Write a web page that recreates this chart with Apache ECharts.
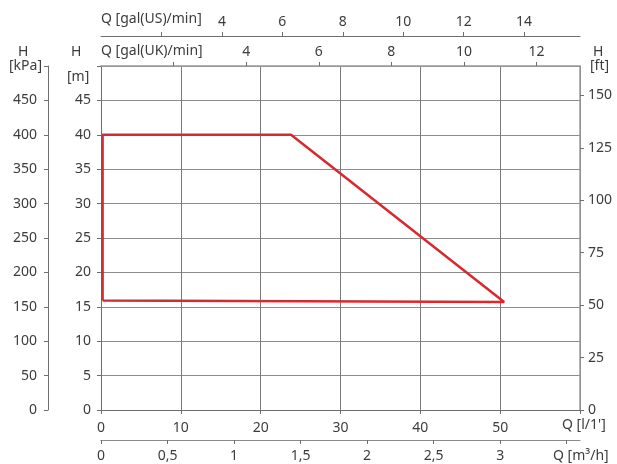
<!DOCTYPE html>
<html><head><meta charset="utf-8">
<script src="https://cdn.jsdelivr.net/npm/echarts@6/dist/echarts.min.js"></script>
<style>html,body{margin:0;padding:0;background:#fff}#c{width:617px;height:464px}</style>
</head><body><div id="c"></div>
<script>
// Operating range polygon (Q in l/min, H in m)
const flowLpm = [0.2, 0.2, 23.8, 50.5, 0.2];
const headM   = [15.9, 40, 40, 15.7, 15.9];

// tick values / labels
const lpmTicks   = [0, 10, 20, 30, 40, 50, 60];
const lpmLabels  = [0, 10, 20, 30, 40, 50];
const m3hTicks   = [0, 0.5, 1, 1.5, 2, 2.5, 3, 3.5];
const m3hLabels  = [0, 0.5, 1, 1.5, 2, 2.5, 3];
const galUKTicks = [2, 4, 6, 8, 10, 12];
const galUKLabels= [4, 6, 8, 10, 12];
const galUSTicks = [2, 4, 6, 8, 10, 12, 14];
const galUSLabels= [4, 6, 8, 10, 12, 14];
const mTicks     = [0, 5, 10, 15, 20, 25, 30, 35, 40, 45, 50];
const mLabels    = [0, 5, 10, 15, 20, 25, 30, 35, 40, 45];
const kPaTicks   = [0, 50, 100, 150, 200, 250, 300, 350, 400, 450, 500];
const kPaLabels  = [0, 50, 100, 150, 200, 250, 300, 350, 400, 450];
const ftTicks    = [0, 25, 50, 75, 100, 125, 150];

const Q_MAX = 60, H_MAX = 50;
const LPM_PER_GAL_UK = 4.54609, LPM_PER_GAL_US = 3.78541, M_PER_FT = 0.3048;

const FONT = 'Noto Sans';
const TXT = '#3c3c3c';
const AX = '#6e6e6e';
const lbl = (extra) => Object.assign({fontFamily: FONT, fontSize: 14, color: TXT}, extra);
const comma = v => String(v).replace('.', ',');
const F = '14px "Noto Sans"';

const chart = echarts.init(document.getElementById('c'), null, {renderer: 'canvas'});
chart.setOption({
  animation: false,
  backgroundColor: '#fff',
  grid: {left: 101, right: 37, top: 66, bottom: 54, containLabel: false, outerBoundsMode: 'none'},
  xAxis: [
    { type: 'value', position: 'bottom', min: 0, max: Q_MAX, interval: 10,
      axisLine: {show: true, lineStyle: {color: AX}},
      axisTick: {show: true, length: 4, customValues: lpmTicks, lineStyle: {color: AX}},
      axisLabel: lbl({margin: 11, customValues: lpmLabels, formatter: v => String(v)}),
      splitLine: {show: true, lineStyle: {color: '#7a7a7a', width: 1}}},
    { type: 'value', position: 'bottom', offset: 30, min: 0, max: Q_MAX * 60 / 1000,
      axisLine: {show: true, onZero: false, lineStyle: {color: '#8a8a8a'}},
      axisTick: {show: true, length: 4, customValues: m3hTicks, lineStyle: {color: AX}},
      axisLabel: lbl({margin: 9, customValues: m3hLabels, formatter: comma}),
      splitLine: {show: false}},
    { type: 'value', position: 'top', min: 0, max: Q_MAX / LPM_PER_GAL_UK,
      axisLine: {show: true, onZero: false, lineStyle: {color: '#9a9a9a', width: 1.5}},
      axisTick: {show: true, length: 4, customValues: galUKTicks, lineStyle: {color: AX}},
      axisLabel: lbl({margin: 7, customValues: galUKLabels}),
      splitLine: {show: false}},
    { type: 'value', position: 'top', offset: 30, min: 0, max: Q_MAX / LPM_PER_GAL_US,
      axisLine: {show: true, onZero: false, lineStyle: {color: AX}},
      axisTick: {show: true, length: 4, customValues: galUSTicks, lineStyle: {color: AX}},
      axisLabel: lbl({margin: 7, customValues: galUSLabels}),
      splitLine: {show: false}}
  ],
  yAxis: [
    { type: 'value', position: 'left', min: 0, max: H_MAX, interval: 5,
      axisLine: {show: true, onZero: false, lineStyle: {color: AX}},
      axisTick: {show: true, length: 4, customValues: mTicks, lineStyle: {color: AX}},
      axisLabel: lbl({margin: 10, customValues: mLabels}),
      splitLine: {show: true, lineStyle: {color: '#8c8c8c', width: 1}}},
    { type: 'value', position: 'left', offset: 53, min: 0, max: H_MAX * 10,
      axisLine: {show: true, onZero: false, lineStyle: {color: AX}},
      axisTick: {show: true, length: 4, customValues: kPaTicks, lineStyle: {color: AX}},
      axisLabel: lbl({margin: 11, customValues: kPaLabels}),
      splitLine: {show: false}},
    { type: 'value', position: 'right', min: 0, max: H_MAX / M_PER_FT,
      axisLine: {show: true, onZero: false, lineStyle: {color: '#9a9a9a', width: 1.5}},
      axisTick: {show: true, length: 4, customValues: ftTicks, lineStyle: {color: AX}},
      axisLabel: lbl({margin: 8, customValues: ftTicks}),
      splitLine: {show: false}}
  ],
  graphic: [
    {type: 'text', left: 18, top: 45, style: {text: 'H', font: F, fill: TXT}},
    {type: 'text', left: 9, top: 59, style: {text: '[kPa]', font: F, fill: TXT}},
    {type: 'text', left: 71, top: 45, style: {text: 'H', font: F, fill: TXT}},
    {type: 'text', left: 67, top: 70, style: {text: '[m]', font: F, fill: TXT}},
    {type: 'text', left: 593, top: 45, style: {text: 'H', font: F, fill: TXT}},
    {type: 'text', left: 590, top: 59, style: {text: '[ft]', font: F, fill: TXT}},
    {type: 'text', left: 101, top: 12, style: {text: 'Q [gal(US)/min]', font: F, fill: TXT}},
    {type: 'text', left: 101, top: 44, style: {text: 'Q [gal(UK)/min]', font: F, fill: TXT}},
    {type: 'text', left: 562, top: 418, style: {text: "Q [l/1']", font: F, fill: TXT}},
    {type: 'text', left: 553, top: 449, style: {text: 'Q [m³/h]', font: F, fill: TXT}}
  ],
  series: [{
    type: 'line', xAxisIndex: 0, yAxisIndex: 0,
    data: flowLpm.map((q, i) => [q, headM[i]]),
    symbol: 'none', z: 5,
    lineStyle: {color: '#d52a30', width: 2.5}
  }]
});
</script></body></html>
